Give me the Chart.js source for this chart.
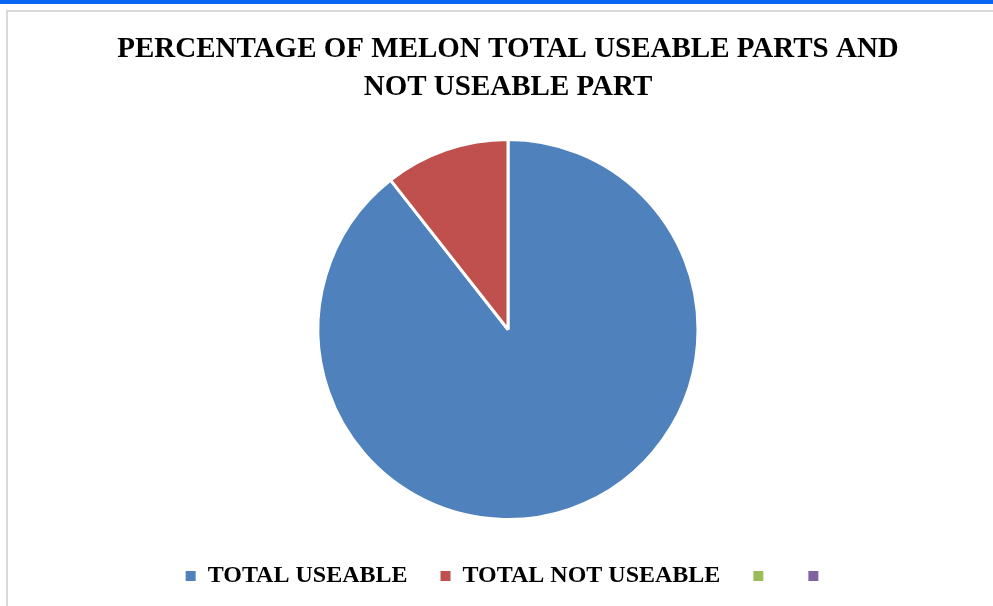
<!DOCTYPE html>
<html lang="en">
<head>
    <meta charset="UTF-8">
    <title>Melon Useable Parts</title>
    <script src="https://cdn.jsdelivr.net/npm/chart.js"></script>
    <style>
        body {
            margin: 0;
            background: #ffffff;
            overflow: hidden;
        }
        .topbar {
            position: absolute;
            left: 0; top: 0;
            width: 993px; height: 4px;
            background: #0a66f2;
        }
        .frame {
            position: absolute;
            left: 6px; top: 10px;
            width: 1000px; height: 600px;
            border-left: 2px solid #d9d9d9;
            border-top: 2px solid #d9d9d9;
        }
        .chart-box {
            position: absolute;
            left: 0; top: 0;
            width: 993px; height: 606px;
        }
    </style>
</head>
<body>
    <div class="topbar"></div>
    <div class="frame"></div>
    <div class="chart-box">
        <canvas id="pieChart"></canvas>
    </div>

    <script>
        // data
        var labels = ['TOTAL USEABLE', 'TOTAL NOT USEABLE', '', ''];
        var values = [89.4, 10.6, 0, 0];
        var colors = ['#4f81bd', '#c0504d', '#9bbb59', '#8064a2'];
        var titleLines = ['PERCENTAGE OF MELON TOTAL USEABLE PARTS AND', 'NOT USEABLE PART'];

        var serif = "'Liberation Serif', 'Times New Roman', serif";

        var ctx = document.getElementById('pieChart').getContext('2d');
        var pieChart = new Chart(ctx, {
            type: 'pie',
            data: {
                labels: labels,
                datasets: [{
                    data: values,
                    backgroundColor: colors,
                    borderColor: '#ffffff',
                    borderWidth: 3
                }]
            },
            options: {
                responsive: true,
                maintainAspectRatio: false,
                animation: false,
                radius: 190,
                layout: {
                    padding: { left: 23, right: 0, top: 12, bottom: 8 }
                },
                plugins: {
                    title: {
                        display: true,
                        text: titleLines,
                        color: '#000000',
                        font: { family: serif, size: 29, weight: 'bold', lineHeight: 1.31 },
                        padding: { top: 19, bottom: 21 }
                    },
                    legend: {
                        position: 'bottom',
                        labels: {
                            boxWidth: 10,
                            boxHeight: 10,
                            padding: 33,
                            color: '#000000',
                            font: { family: serif, size: 24, weight: 'bold' },
                            // plain squares, no white outline
                            generateLabels: function (chart) {
                                var items = Chart.overrides.pie.plugins.legend.labels.generateLabels(chart);
                                items.forEach(function (item) { item.lineWidth = 0; });
                                return items;
                            }
                        }
                    },
                    tooltip: { enabled: false }
                }
            }
        });
    </script>
</body>
</html>
